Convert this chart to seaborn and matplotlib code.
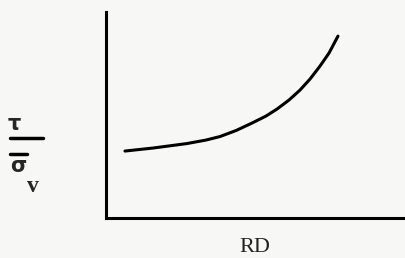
import matplotlib
matplotlib.use("Agg")
import matplotlib.pyplot as plt
import seaborn as sns
import pandas as pd
from matplotlib.lines import Line2D

# values (arbitrary units)
rd = [19, 47, 81, 100, 114, 130, 146, 160, 171, 183, 194, 204, 214, 223, 232]
tau_ratio = [67, 70, 74.5, 78, 81.5, 87.5, 95, 102, 109, 118, 128, 139, 152, 165, 182]

sns.set_style("white")
plt.rcParams["font.family"] = ["Liberation Serif", "DejaVu Serif"]

df = pd.DataFrame({"RD": rd, "ratio": tau_ratio})

fig = plt.figure(figsize=(4.06, 2.58), dpi=100)
fig.patch.set_facecolor("#f7f7f5")
ax = fig.add_axes([0.261, 0.155, 0.739, 0.798])
ax.set_facecolor("#f7f7f5")

sns.lineplot(data=df, x="RD", y="ratio", color="black", linewidth=2.2, ax=ax)

ax.set_xlim(0, 300)
ax.set_ylim(0, 206)
ax.set_xticks([])
ax.set_yticks([])
ax.set_xlabel("")
ax.set_ylabel("")
for side in ["top", "right"]:
    ax.spines[side].set_visible(False)
for side in ["left", "bottom"]:
    ax.spines[side].set_linewidth(2.2)
    ax.spines[side].set_color("black")

# x label
fig.text(255 / 406, 1 - 247 / 258, "RD", ha="center", va="center", fontsize=16,
         color="#222222")

# y label drawn as a fraction tau / sigma_v
sans = ["DejaVu Sans"]
fig.text(14 / 406, 1 - 124 / 258, "τ", ha="center", va="center", fontsize=15,
         family=sans, fontweight="bold")
fig.add_artist(Line2D([10 / 406, 43 / 406], [1 - 138 / 258, 1 - 138 / 258],
                      transform=fig.transFigure, color="black", linewidth=2.5))
fig.add_artist(Line2D([10 / 406, 27 / 406], [1 - 154 / 258, 1 - 154 / 258],
                      transform=fig.transFigure, color="black", linewidth=2.5))
fig.text(18 / 406, 1 - 166 / 258, "σ", ha="center", va="center", fontsize=15,
         family=sans, fontweight="bold")
fig.text(33 / 406, 1 - 186 / 258, "v", ha="center", va="center", fontsize=17,
         fontweight="bold")

fig.savefig("out.png", dpi=100, facecolor=fig.get_facecolor())
